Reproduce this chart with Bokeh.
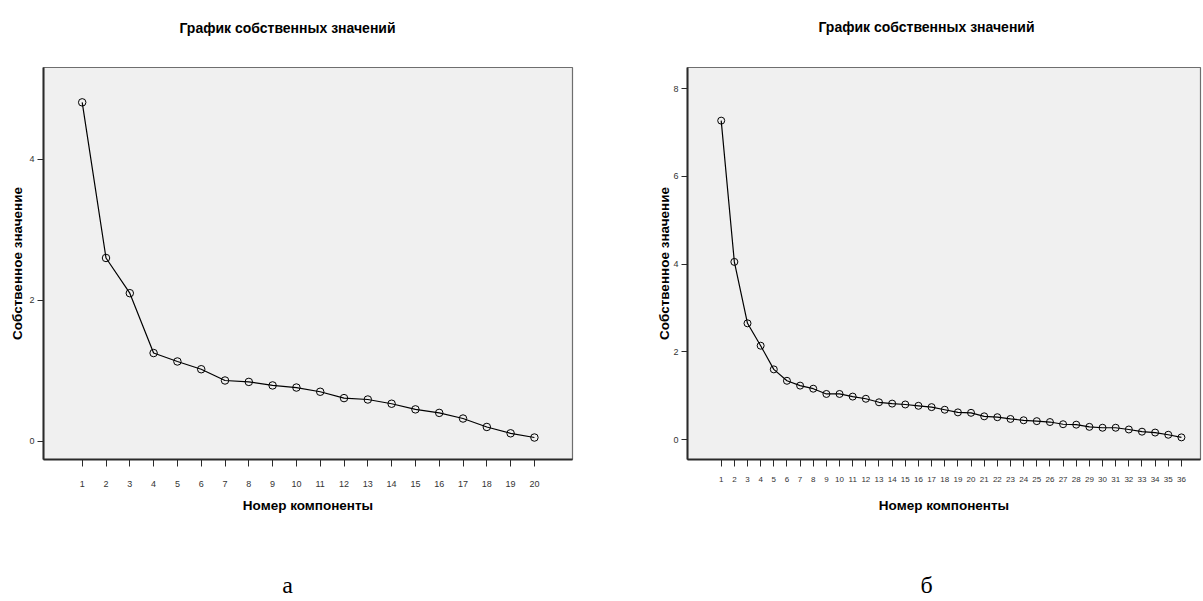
from bokeh.plotting import figure
from bokeh.models import Range1d, FixedTicker
from bokeh.layouts import row, column
from bokeh.core.properties import value
from bokeh.embed import file_html
from bokeh.resources import INLINE

# ---------------- data ----------------
TITLE = "График собственных значений"
XLABEL = "Номер компоненты"
YLABEL = "Собственное значение"

comp_a = list(range(1, 21))
eig_a = [4.81, 2.60, 2.10, 1.25, 1.13, 1.02, 0.86, 0.84, 0.79, 0.76,
         0.70, 0.61, 0.59, 0.53, 0.45, 0.40, 0.32, 0.20, 0.11, 0.05]
yticks_a = [0, 2, 4]

comp_b = list(range(1, 37))
eig_b = [7.27, 4.05, 2.65, 2.14, 1.60, 1.34, 1.23, 1.16, 1.04, 1.04,
         0.98, 0.93, 0.85, 0.82, 0.80, 0.77, 0.74, 0.68, 0.62, 0.61,
         0.53, 0.51, 0.47, 0.44, 0.42, 0.40, 0.35, 0.34, 0.29, 0.27,
         0.27, 0.23, 0.18, 0.16, 0.11, 0.05]
yticks_b = [0, 2, 4, 6, 8]

captions = ["а", "б"]

FONT = "Liberation Sans"
TOP_H = 50      # height of the title strip
BOT_H = 50      # height of the caption strip
TOTAL_H = 601


def text_strip(width, bl, br, height, tx, ty, text, font, size, style,
               baseline):
    """A frame-only strip (no axes) carrying one centred text."""
    fw = width - bl - br
    s = figure(width=width, height=height, output_backend="svg",
               toolbar_location=None, x_axis_type=None, y_axis_type=None,
               min_border_left=bl, min_border_right=br, min_border_top=0,
               min_border_bottom=0, x_range=Range1d(0, fw),
               y_range=Range1d(0, height))
    s.outline_line_color = None
    s.background_fill_color = "white"
    s.border_fill_color = "white"
    s.text(x=[tx - bl], y=[height - ty], text=[text],
           text_font=value(font), text_font_size=size,
           text_font_style=style, text_align="center",
           text_baseline=baseline, text_color="black")
    return s


def make_chart(comps, eigs, yticks, width, height, borders, xr, yr, tick_fs,
               xstand, xlabstand, ylabstand, marker_size):
    bl, br, bt, bb = borders
    p = figure(width=width, height=height, output_backend="svg",
               toolbar_location=None, min_border_left=bl, min_border_right=br,
               min_border_top=bt, min_border_bottom=bb,
               x_range=Range1d(*xr), y_range=Range1d(*yr))
    p.background_fill_color = "#f0f0f0"
    p.border_fill_color = "white"
    p.outline_line_color = "#6e6e6e"
    p.outline_line_width = 1.2
    p.xgrid.visible = False
    p.ygrid.visible = False

    for ax in (p.xaxis[0], p.yaxis[0]):
        ax.axis_line_color = "#2a2a2a"
        ax.axis_line_width = 2
        ax.major_tick_line_color = "#2a2a2a"
        ax.major_tick_line_width = 1
        ax.major_tick_in = 0
        ax.minor_tick_in = 0
        ax.minor_tick_out = 0
        ax.major_label_text_font = FONT
        ax.major_label_text_color = "#333333"
        ax.axis_label_text_font = FONT
        ax.axis_label_text_font_style = "bold"
        ax.axis_label_text_font_size = "13.5px"
        ax.axis_label_text_color = "black"

    p.xaxis.ticker = FixedTicker(ticks=comps)
    p.xaxis.major_tick_out = 7
    p.xaxis.major_label_text_font_size = f"{tick_fs}px"
    p.xaxis.major_label_standoff = xstand
    p.xaxis.axis_label = XLABEL
    p.xaxis.axis_label_standoff = xlabstand

    p.yaxis.ticker = FixedTicker(ticks=yticks)
    p.yaxis.major_tick_out = 6
    p.yaxis.major_label_text_font_size = "9px"
    p.yaxis.major_label_standoff = 3
    p.yaxis.axis_label = YLABEL
    p.yaxis.axis_label_standoff = ylabstand

    p.line(comps, eigs, line_color="black", line_width=1.2)
    p.scatter(comps, eigs, marker="circle", size=marker_size,
              fill_color=None, line_color="black", line_width=1)
    return p


CH_H = TOTAL_H - TOP_H - BOT_H   # 501
CAP_Y = 584   # vertical centre of the captions, page pixels

# left chart (а): frame 43..572 x 66..459 in page pixels
W1 = 630
p1 = make_chart(comp_a, eig_a, yticks_a, width=W1, height=CH_H,
                borders=(43, 58, 66 - TOP_H, TOP_H + CH_H - 459),
                xr=(-0.626, 21.60), yr=(-0.262, 5.305), tick_fs=9,
                xstand=14, xlabstand=8, ylabstand=1, marker_size=7.5)
t1 = text_strip(W1, 43, 58, TOP_H, 287, 27, TITLE, FONT, "14px", "bold",
                "middle")
c1 = text_strip(W1, 43, 58, BOT_H, 287, CAP_Y - (TOTAL_H - BOT_H),
                captions[0], "Liberation Serif", "24px", "normal", "middle")

# right chart (б): frame 687..1200 x 67..461 in page pixels
W2 = 573
p2 = make_chart(comp_b, eig_b, yticks_b, width=W2, height=CH_H,
                borders=(57, 3, 67 - TOP_H, TOP_H + CH_H - 461),
                xr=(-1.563, 37.45), yr=(-0.454, 8.481), tick_fs=8,
                xstand=10, xlabstand=13, ylabstand=-2, marker_size=7)
t2 = text_strip(W2, 57, 3, TOP_H, 926 - W1, 26, TITLE, FONT, "14px", "bold",
                "middle")
c2 = text_strip(W2, 57, 3, BOT_H, 926 - W1, CAP_Y - (TOTAL_H - BOT_H),
                captions[1], "Liberation Serif", "24px", "normal", "middle")

layout = column(row(t1, t2), row(p1, p2), row(c1, c2))
open("out.html", "w").write(file_html(layout, INLINE))
